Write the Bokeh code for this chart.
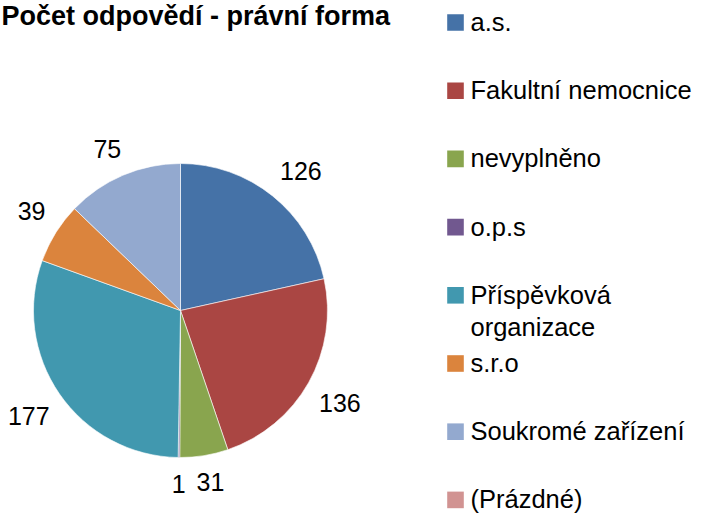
import math
from bokeh.plotting import figure
from bokeh.models import Range1d, ColumnDataSource
from bokeh.embed import file_html
from bokeh.resources import INLINE
from bokeh.core.properties import value

# ---- data ----
title_text = "Počet odpovědí - právní forma"
categories = ["a.s.", "Fakultní nemocnice", "nevyplněno", "o.p.s",
              "Příspěvková\norganizace", "s.r.o", "Soukromé zařízení", "(Prázdné)"]
counts = [126, 136, 31, 1, 177, 39, 75, 0]
colors = ["#4572A7", "#AA4643", "#89A54E", "#71588F",
          "#4198AF", "#DB843D", "#93A9CF", "#D19392"]

FONT = "Liberation Sans"
W, H = 696, 516
BASE_FIX = 0.37  # raise the alphabetic baseline by this fraction of the font size


def Y(yi):
    # picture-space y (down) -> data y (up)
    return H - yi


p = figure(width=W, height=H, x_range=Range1d(0, W), y_range=Range1d(0, H),
           output_backend="svg", toolbar_location=None, min_border=0,
           x_axis_type=None, y_axis_type=None)
p.grid.visible = False
p.outline_line_color = None
p.background_fill_color = "white"

# ---- pie ----
cx, cy, r = 180, Y(310), 147
total = sum(counts)
starts, ends, mids = [], [], []
cum = 0
for v in counts:
    a0 = math.pi / 2 - 2 * math.pi * cum / total
    cum += v
    a1 = math.pi / 2 - 2 * math.pi * cum / total
    starts.append(a1)
    ends.append(a0)
    mids.append((a0 + a1) / 2)

keep = [i for i, v in enumerate(counts) if v > 0]
wsrc = ColumnDataSource(dict(
    x=[cx] * len(keep), y=[cy] * len(keep),
    start=[starts[i] for i in keep], end=[ends[i] for i in keep],
    color=[colors[i] for i in keep]))
p.wedge(x="x", y="y", radius=r, start_angle="start", end_angle="end",
        fill_color="color", line_color="white", line_width=0.6, source=wsrc)

# ---- data labels ----
lab_size = 25
gap = 12
lx, ly, lt = [], [], []
for i in keep:
    v, m = counts[i], mids[i]
    c, s = math.cos(m), math.sin(m)
    w2 = len(str(v)) * 0.556 * lab_size / 2
    h2 = 15
    ax = cx + (r + gap) * c
    ay = cy + (r + gap) * s
    tx_ = ax + w2 * max(-1, min(1, 2 * c))
    ty_ = ay + h2 * max(-1, min(1, 2 * s))
    lx.append(tx_)
    ly.append(ty_ - 0.358 * lab_size + BASE_FIX * lab_size)
    lt.append(str(v))
p.text(x=lx, y=ly, text=lt, text_font=value(FONT), text_font_size=f"{lab_size}px",
       text_align="center", text_baseline="alphabetic", text_color="black")

# ---- title ----
title_size = 27
p.text(x=[1], y=[Y(25) + BASE_FIX * title_size], text=[title_text], text_font=value(FONT),
       text_font_size=f"{title_size}px", text_font_style="bold", text_align="left",
       text_baseline="alphabetic", text_color="black")

# ---- legend ----
row0, step = 22, 68.2
sq = 16.6
leg_size = 25.5
sx, sy, sc = [], [], []
tx, ty, tt = [], [], []
for i, (cat, col) in enumerate(zip(categories, colors)):
    yi = row0 + i * step
    sx.append(455)
    sy.append(Y(yi))
    sc.append(col)
    for j, line in enumerate(cat.split("\n")):
        tx.append(470)
        ty.append(Y(yi + 9 + j * 31.7) + BASE_FIX * leg_size)
        tt.append(line)
p.rect(x=sx, y=sy, width=sq, height=sq, fill_color=sc, line_color=None)
p.text(x=tx, y=ty, text=tt, text_font=value(FONT), text_font_size=f"{leg_size}px",
       text_align="left", text_baseline="alphabetic", text_color="black")

open("out.html", "w").write(file_html(p, INLINE))
